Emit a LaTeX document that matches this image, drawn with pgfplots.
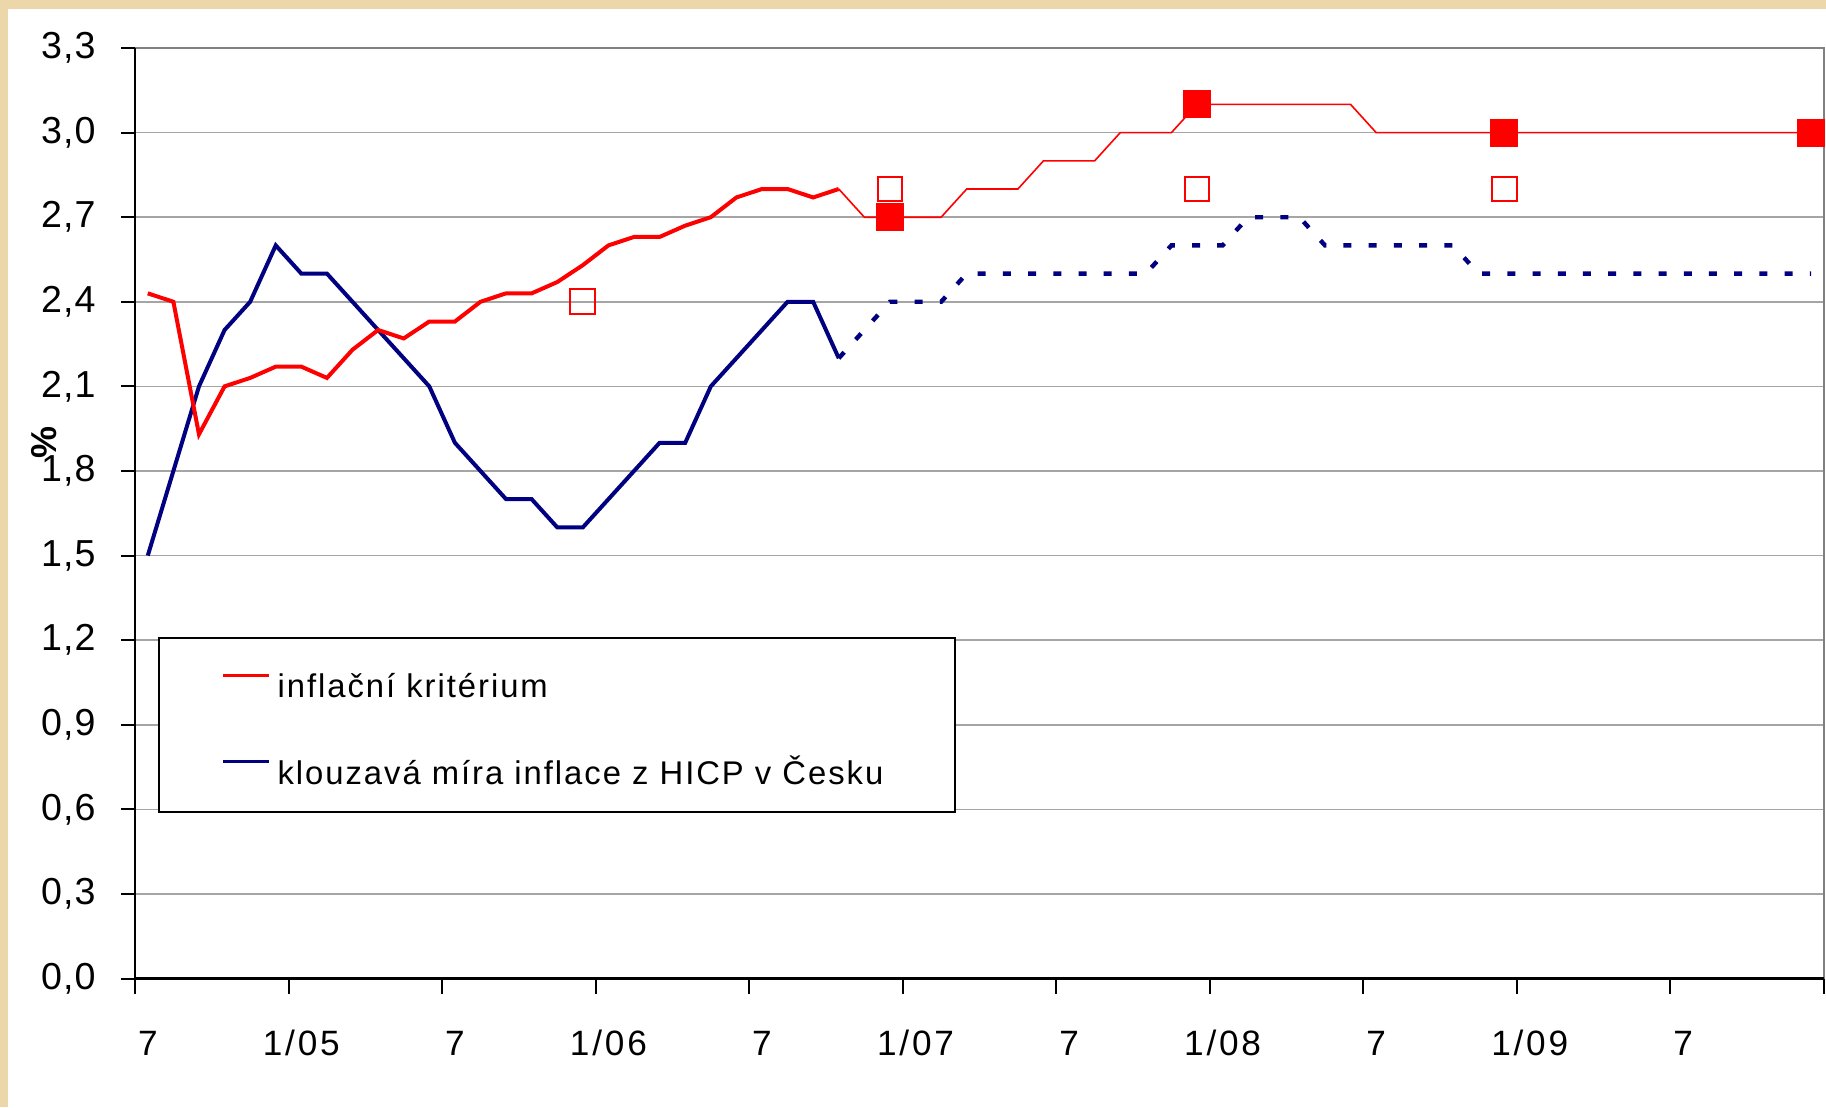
\documentclass[border=0pt]{standalone}
\usepackage{fontspec}
\setmainfont{Liberation Sans}
\newfontfamily\legfont[LetterSpace=6]{Liberation Sans}
\newfontfamily\xtfont[LetterSpace=8]{Liberation Sans}
\newfontfamily\ytfont[LetterSpace=3]{Liberation Sans}
\usepackage{pgfplots}
\pgfplotsset{compat=1.18}
\definecolor{parch}{RGB}{235,215,170}
\definecolor{navy}{RGB}{0,0,128}
\definecolor{hred}{RGB}{255,0,0}
\definecolor{gridgray}{RGB}{165,165,165}
\definecolor{boxgray}{RGB}{128,128,128}

\begin{document}
\begin{tikzpicture}
\useasboundingbox (0,0) rectangle (456.5pt,276.75pt);
\fill[parch] (0,0) rectangle (456.5pt,276.75pt);
\fill[white] (2pt,0) rectangle (456.5pt,274.5pt);
\begin{axis}[
  at={(33.75pt,32.125pt)}, anchor=south west,
  scale only axis, width=422.25pt, height=232.625pt,
  xmin=-0.5, xmax=65.5, ymin=0, ymax=3.3,
  clip=false,
  axis line style={draw=none},
  tick pos=left, tick align=outside,
  xtick={0,6,...,60},
  xticklabels={7,1/05,7,1/06,7,1/07,7,1/08,7,1/09,7},
  minor xtick={-0.5,5.5,...,65.5},
  ytick={0,0.3,0.6,0.9,1.2,1.5,1.8,2.1,2.4,2.7,3.0,3.3},
  yticklabels={{0,0},{0,3},{0,6},{0,9},{1,2},{1,5},{1,8},{2,1},{2,4},{2,7},{3,0},{3,3}},
  major tick length=3.5pt, minor tick length=3.75pt,
  tick style={black, line width=0.5pt},
  major x tick style={draw=none},
  ymajorgrids, major grid style={gridgray, line width=0.4pt},
  yticklabel style={font=\ytfont\fontsize{9.4}{11}\selectfont, anchor=east, inner sep=0pt, xshift=-6.15pt},
  xticklabel style={font=\xtfont\fontsize{8.8}{10}\selectfont, anchor=base, inner sep=0pt, yshift=-15.8pt},
  ylabel={\bfseries\%},
  ylabel style={font=\fontsize{9}{11}\selectfont, at={(axis description cs:-0.0539,0.5766)}, anchor=center},
  legend style={at={(axis description cs:0.0509,0.3286)}, anchor=north west,
    draw=none, fill=none, inner sep=0pt, row sep=14.65pt,
    nodes={inner sep=0pt, text height=6pt, text depth=1pt, font=\legfont\fontsize{8.2}{9}\selectfont},
    /tikz/every odd column/.append style={column sep=1.7pt}},
  legend cell align=left,
  legend image code/.code={\draw[#1] (0pt,3.1pt) -- (11.5pt,3.1pt);},
]
% legend frame
\draw[black, line width=0.5pt, fill=white] (rel axis cs:0.0145,0.1794) rectangle (rel axis cs:0.4855,0.366);
\addlegendimage{hred, line width=0.75pt}
\addlegendentry{inflační kritérium}
\addlegendimage{navy, line width=0.75pt}
\addlegendentry{klouzavá míra inflace z HICP v Česku}

% klouzavá míra inflace (skutečnost)
\addplot[navy, line width=1pt, forget plot] coordinates {
  (0,1.5)(1,1.8)(2,2.1)(3,2.3)(4,2.4)(5,2.6)(6,2.5)(7,2.5)(8,2.4)(9,2.3)
  (10,2.2)(11,2.1)(12,1.9)(13,1.8)(14,1.7)(15,1.7)(16,1.6)(17,1.6)(18,1.7)(19,1.8)
  (20,1.9)(21,1.9)(22,2.1)(23,2.2)(24,2.3)(25,2.4)(26,2.4)(27,2.2)
};
% klouzavá míra inflace (prognóza)
\addplot[navy, line width=1.1pt, dash pattern=on 2pt off 4.3pt, forget plot] coordinates {
  (27,2.2)(28,2.3)(29,2.4)(30,2.4)(31,2.4)(32,2.5)(33,2.5)(34,2.5)(35,2.5)(36,2.5)
  (37,2.5)(38,2.5)(39,2.5)(40,2.6)(41,2.6)(42,2.6)(43,2.7)(44,2.7)(45,2.7)(46,2.6)
  (47,2.6)(48,2.6)(49,2.6)(50,2.6)(51,2.6)(52,2.5)(53,2.5)(54,2.5)(55,2.5)(56,2.5)
  (57,2.5)(58,2.5)(59,2.5)(60,2.5)(61,2.5)(62,2.5)(63,2.5)(64,2.5)(65,2.5)
};
% inflační kritérium (skutečnost)
\addplot[hred, line width=1pt, forget plot] coordinates {
  (0,2.43)(1,2.40)(2,1.93)(3,2.10)(4,2.13)(5,2.17)(6,2.17)(7,2.13)(8,2.23)(9,2.30)
  (10,2.27)(11,2.33)(12,2.33)(13,2.40)(14,2.43)(15,2.43)(16,2.47)(17,2.53)(18,2.60)(19,2.63)
  (20,2.63)(21,2.67)(22,2.70)(23,2.77)(24,2.80)(25,2.80)(26,2.77)(27,2.80)
};
% inflační kritérium (prognóza)
\addplot[hred, line width=0.4pt, forget plot] coordinates {
  (27,2.80)(28,2.70)(29,2.70)(30,2.70)(31,2.70)(32,2.80)(33,2.80)(34,2.80)(35,2.90)(36,2.90)
  (37,2.90)(38,3.00)(39,3.00)(40,3.00)(41,3.10)(42,3.10)(43,3.10)(44,3.10)(45,3.10)(46,3.10)
  (47,3.10)(48,3.00)(49,3.00)(50,3.00)(51,3.00)(52,3.00)(53,3.00)(54,3.00)(55,3.00)(56,3.00)
  (57,3.00)(58,3.00)(59,3.00)(60,3.00)(61,3.00)(62,3.00)(63,3.00)(64,3.00)(65,3.00)
};
% kritérium v termínech hodnocení
\addplot[only marks, mark=square*, mark size=3.375pt, mark options={draw=hred, fill=hred, line width=0pt}, forget plot]
  coordinates {(29,2.70)(41,3.10)(53,3.00)(65,3.00)};
\addplot[only marks, mark=square, mark size=3.1pt, mark options={draw=hred, line width=0.5pt}, forget plot]
  coordinates {(17,2.40)(29,2.80)(41,2.80)(53,2.80)};

% frame
\draw[boxgray, line width=0.6pt] (rel axis cs:0,1) -- (rel axis cs:1,1) -- (rel axis cs:1,0);
\draw[black, line width=0.5pt] (rel axis cs:0,0) -- (rel axis cs:0,1);
\draw[black, line width=0.75pt] (rel axis cs:0,0) -- (rel axis cs:1,0);
\end{axis}
\end{tikzpicture}
\end{document}
